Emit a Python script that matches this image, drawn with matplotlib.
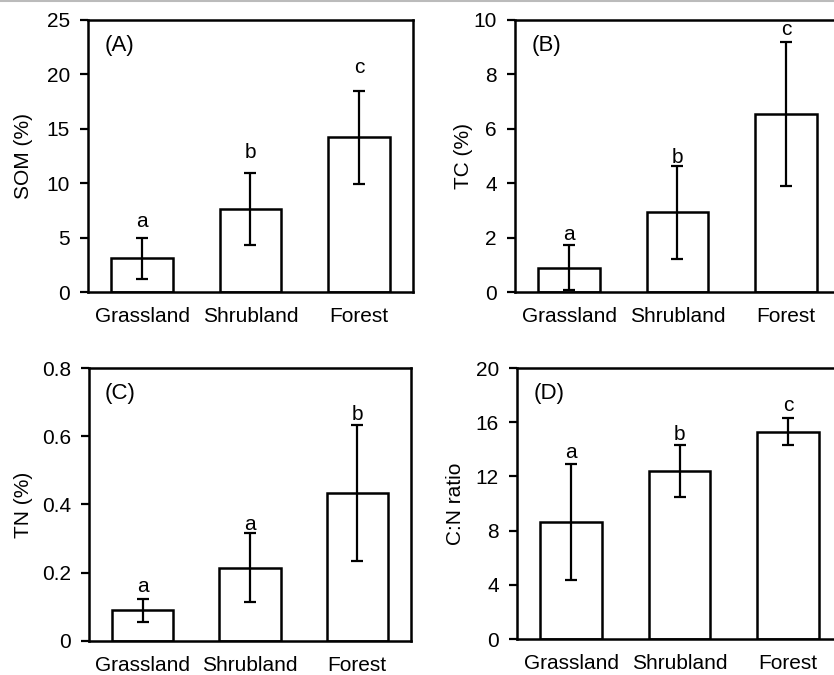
import numpy as np
import matplotlib
matplotlib.use('Agg')
import matplotlib.pyplot as plt
from matplotlib.lines import Line2D

plt.rcParams['font.family'] = ['Liberation Sans', 'DejaVu Sans']

# data (means and +/- error)
sites = ['Grassland', 'Shrubland', 'Forest']

som_mean = [3.1, 7.6, 14.2]
som_err = [1.9, 3.3, 4.3]
som_grp = ['a', 'b', 'c']
som_grp_y = [5.97, 12.3, 20.1]

tc_mean = [0.9, 2.93, 6.55]
tc_err = [0.83, 1.7, 2.65]
tc_grp = ['a', 'b', 'c']
tc_grp_y = [1.91, 4.74, 9.45]

tn_mean = [0.09, 0.215, 0.433]
tn_err = [0.034, 0.1, 0.2]
tn_grp = ['a', 'a', 'b']
tn_grp_y = [0.144, 0.325, 0.648]

cn_mean = [8.6, 12.4, 15.3]
cn_err = [4.28, 1.93, 1.0]
cn_grp = ['a', 'b', 'c']
cn_grp_y = [13.36, 14.7, 16.8]

panels = [
    ('(A)', 'SOM (%)', som_mean, som_err, som_grp, som_grp_y,
     [0, 5, 10, 15, 20, 25], ['0', '5', '10', '15', '20', '25']),
    ('(B)', 'TC (%)', tc_mean, tc_err, tc_grp, tc_grp_y,
     [0, 2, 4, 6, 8, 10], ['0', '2', '4', '6', '8', '10']),
    ('(C)', 'TN (%)', tn_mean, tn_err, tn_grp, tn_grp_y,
     [0, 0.2, 0.4, 0.6, 0.8], ['0', '0.2', '0.4', '0.6', '0.8']),
    ('(D)', 'C:N ratio', cn_mean, cn_err, cn_grp, cn_grp_y,
     [0, 4, 8, 12, 16, 20], ['0', '4', '8', '12', '16', '20']),
]

# axes boxes in figure fraction (right column runs past the edge, as in the original crop)
boxes = [
    [0.1055, 0.5674, 0.3897, 0.403],
    [0.6175, 0.5674, 0.3897, 0.403],
    [0.1067, 0.0504, 0.386, 0.4044],
    [0.6199, 0.0533, 0.3897, 0.4015],
]
ylabel_x = [-0.169, -0.129, -0.174, -0.16]

fig = plt.figure(figsize=(8.34, 6.75), dpi=100)
fig.add_artist(Line2D([0, 1], [0.999, 0.999], color='#bbbbbb', lw=1.5,
                      transform=fig.transFigure))

x = np.arange(len(sites))
for box, lx, (tag, ylab, mean, err, grp, grp_y, ticks, tlabels) in zip(boxes, ylabel_x, panels):
    ax = fig.add_axes(box)
    ax.bar(x, mean, width=0.57, color='white', edgecolor='black', linewidth=1.8,
           zorder=2)
    ax.errorbar(x, mean, yerr=err, fmt='none', ecolor='black', elinewidth=1.6,
                capsize=4, capthick=1.6, zorder=3)
    for xi, gy, g in zip(x, grp_y, grp):
        ax.text(xi, gy, g, ha='center', va='baseline', fontsize=15)
    ax.set_xlim(-0.5, 2.5)
    ax.set_ylim(ticks[0], ticks[-1])
    ax.set_yticks(ticks)
    ax.set_yticklabels(tlabels)
    ax.set_xticks(x)
    ax.set_xticklabels(sites)
    ax.tick_params(axis='x', length=0, pad=11, labelsize=15)
    ax.tick_params(axis='y', direction='out', length=6, width=1.6, pad=7,
                   labelsize=15)
    ax.set_ylabel(ylab, fontsize=15)
    ax.yaxis.set_label_coords(lx, 0.5)
    ax.text(0.05, 0.905, tag, transform=ax.transAxes, ha='left', va='center',
            fontsize=16)
    for s in ax.spines.values():
        s.set_linewidth(1.8)

fig.savefig('out.png', dpi=100)
